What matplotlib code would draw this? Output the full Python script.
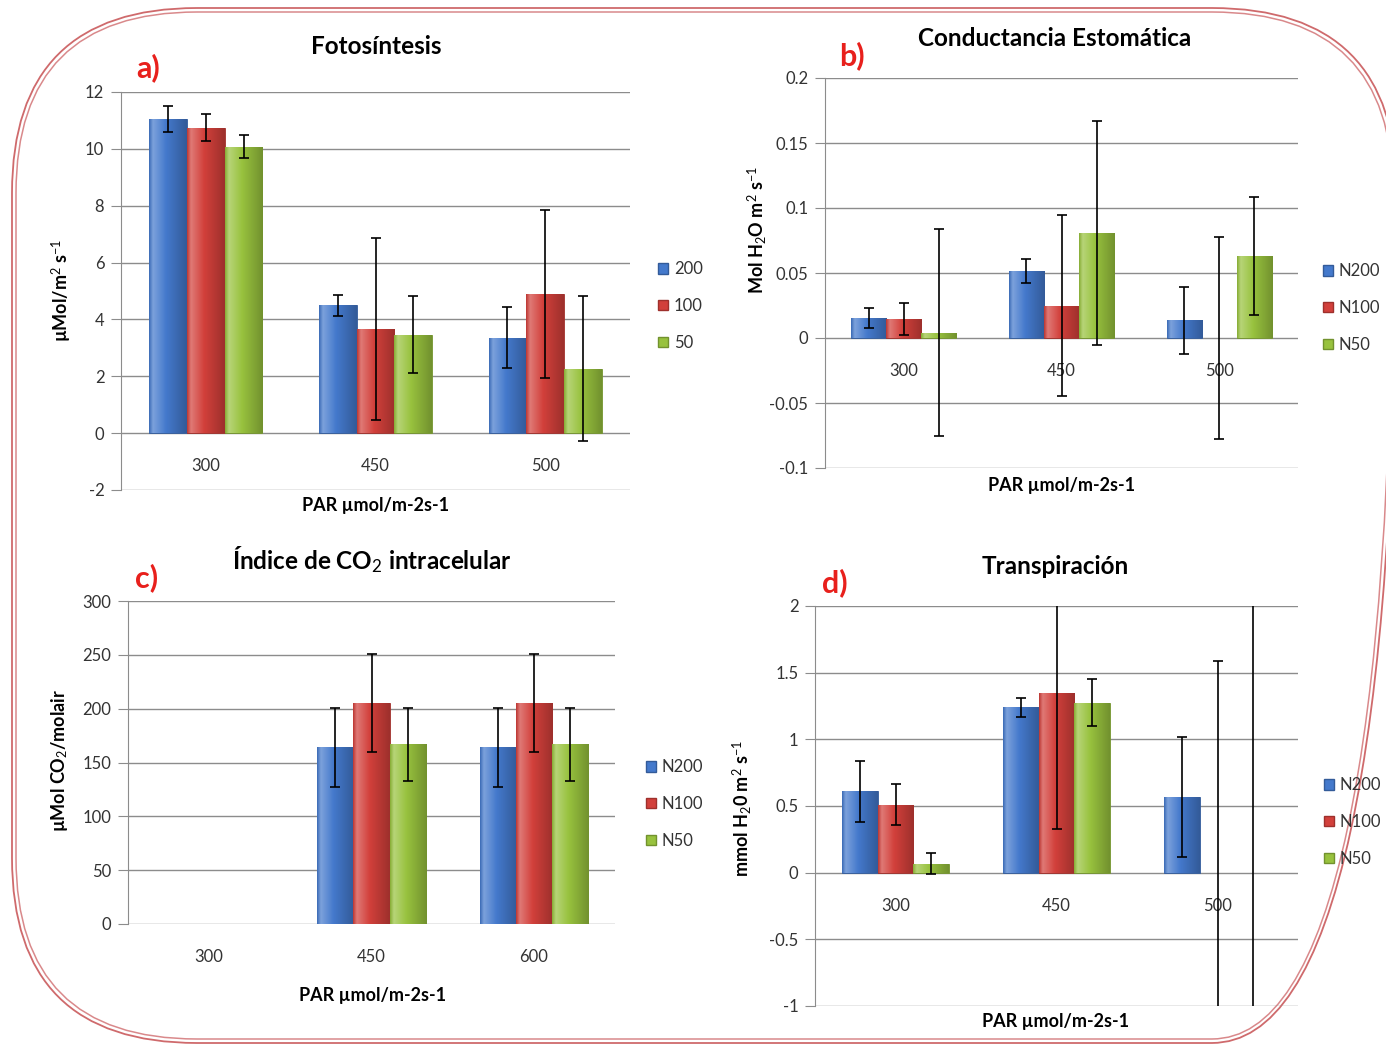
import matplotlib
matplotlib.use("Agg")
import matplotlib.pyplot as plt
import matplotlib.colors as mcolors
from matplotlib.patches import FancyBboxPatch, Patch
import numpy as np

plt.rcParams['font.family'] = ['Lato', 'DejaVu Sans']
plt.rcParams['mathtext.fontset'] = 'custom'
plt.rcParams['mathtext.rm'] = 'Lato'
plt.rcParams['mathtext.it'] = 'Lato:italic'
plt.rcParams['mathtext.bf'] = 'Lato:bold'

# --- datos ---
par_ab = ['300', '450', '500']
par_c = ['300', '450', '600']
series_a = ['200', '100', '50']
series_n = ['N200', 'N100', 'N50']

# a) Fotosintesis
foto_200 = [11.05, 4.50, 3.36]
foto_100 = [10.75, 3.66, 4.90]
foto_50 = [10.08, 3.46, 2.27]
foto_200_err = [0.46, 0.37, 1.08]
foto_100_err = [0.47, 3.19, 2.95]
foto_50_err = [0.40, 1.35, 2.55]

# b) Conductancia estomatica
cond_n200 = [0.0155, 0.0515, 0.0135]
cond_n100 = [0.0145, 0.025, 0.0]
cond_n50 = [0.004, 0.081, 0.063]
cond_n200_err = [0.0075, 0.009, 0.026]
cond_n100_err = [0.0125, 0.0695, 0.078]
cond_n50_err = [0.0795, 0.086, 0.0455]

# c) CO2 intracelular (300 sin datos)
ci_n200 = [np.nan, 164, 164]
ci_n100 = [np.nan, 205, 205]
ci_n50 = [np.nan, 167, 167]
ci_n200_err = [np.nan, 37, 37]
ci_n100_err = [np.nan, 45.5, 45.5]
ci_n50_err = [np.nan, 34, 34]

# d) Transpiracion
trans_n200 = [0.61, 1.24, 0.565]
trans_n100 = [0.51, 1.35, 0.0]
trans_n50 = [0.068, 1.275, 0.0]
trans_n200_err = [0.23, 0.07, 0.45]
trans_n100_err = [0.155, 1.02, 1.59]
trans_n50_err = [0.078, 0.177, 2.6]

colores = ['#4479cc', '#d2403b', '#98c23e']
gris = '#8c8c8c'

W, H = 1386, 1047
fig = plt.figure(figsize=(W / 100, H / 100), dpi=100)


def fx(px):
    return px / W


def fy(py):
    return 1 - py / H


def oscurecer(c, f=0.75):
    return mcolors.to_hex(np.array(mcolors.to_rgb(c)) * f)


# marco redondeado doble
bg = fig.add_axes([0, 0, 1, 1], zorder=-5)
bg.set_xlim(0, W)
bg.set_ylim(H, 0)
bg.axis('off')
bg.add_patch(FancyBboxPatch((12, 8), 1385, 1035, boxstyle="round,pad=0,rounding_size=185",
                            fc='none', ec='#cf6a6c', lw=1.3))
bg.add_patch(FancyBboxPatch((16, 12), 1377, 1027, boxstyle="round,pad=0,rounding_size=181",
                            fc='none', ec='#d9898b', lw=1.1))


def sombrear(ax, barras, color):
    base = np.array(mcolors.to_rgb(color))
    claro = base + (1 - base) * 0.3
    oscuro = base * 0.75
    t = np.linspace(0, 1, 60)
    pts = [0, 0.1, 0.45, 1]
    cols = [base * 0.9, claro, base, oscuro]
    img = np.zeros((1, len(t), 3))
    for k in range(3):
        img[0, :, k] = np.interp(t, pts, [c[k] for c in cols])
    for b in barras:
        h = b.get_height()
        if not np.isfinite(h) or h == 0:
            b.set_linewidth(0)
            continue
        x0, y0, w = b.get_x(), b.get_y(), b.get_width()
        im = ax.imshow(img, extent=[x0, x0 + w, y0, y0 + h], aspect='auto',
                       interpolation='bilinear', zorder=1.2)
        im.set_clip_path(b)


def panel(rect, cats, vals, errs, ylim, yticks):
    l, t, r, b = rect
    ax = fig.add_axes([fx(l), fy(b), fx(r - l), (b - t) / H])
    x = np.arange(len(cats))
    w = 1 / 4.5
    for i, (v, e, c) in enumerate(zip(vals, errs, colores)):
        pos = x + (i - 1) * w
        barras = ax.bar(pos, v, w, color=c, edgecolor=oscurecer(c), lw=0.6, zorder=1)
        sombrear(ax, barras, c)
        ax.errorbar(pos, v, yerr=e, fmt='none', ecolor='black', elinewidth=1.2,
                    capsize=3.5, capthick=1.2, zorder=4)
    ax.set_xlim(-0.5, len(cats) - 0.5)
    ax.set_ylim(*ylim)
    ax.set_yticks(yticks)
    ax.set_yticklabels(['{:g}'.format(v) for v in yticks])
    ax.set_xticks(x)
    ax.set_xticklabels(cats)
    ax.set_axisbelow(True)
    ax.grid(axis='y', color=gris, lw=1)
    for s in ['top', 'right']:
        ax.spines[s].set_visible(False)
    ax.spines['bottom'].set_position(('data', 0))
    ax.spines['bottom'].set_visible(False)
    ax.spines['left'].set_color(gris)
    ax.tick_params(axis='y', length=7, color=gris, labelsize=12, labelcolor='#333333', pad=5)
    ax.tick_params(axis='x', length=0, labelsize=12, labelcolor='#333333', pad=18)
    ax.patch.set_alpha(0)
    return ax


ax_a = panel((121, 92, 630, 490), par_ab,
             [foto_200, foto_100, foto_50], [foto_200_err, foto_100_err, foto_50_err],
             (-2, 12), [-2, 0, 2, 4, 6, 8, 10, 12])
ax_b = panel((825, 78, 1298, 468), par_ab,
             [cond_n200, cond_n100, cond_n50], [cond_n200_err, cond_n100_err, cond_n50_err],
             (-0.1, 0.2), [-0.1, -0.05, 0, 0.05, 0.1, 0.15, 0.2])
ax_c = panel((128, 601, 615, 924), par_c,
             [ci_n200, ci_n100, ci_n50], [ci_n200_err, ci_n100_err, ci_n50_err],
             (0, 300), [0, 50, 100, 150, 200, 250, 300])
ax_d = panel((815, 606, 1298, 1006), par_ab,
             [trans_n200, trans_n100, trans_n50], [trans_n200_err, trans_n100_err, trans_n50_err],
             (-1, 2), [-1, -0.5, 0, 0.5, 1, 1.5, 2])

# leyendas
for ax, labs, (px, py) in zip([ax_a, ax_b, ax_c, ax_d],
                              [series_a, series_n, series_n, series_n],
                              [(658, 306), (1323, 308), (646, 804), (1324, 822)]):
    hs = [Patch(fc=c, ec=oscurecer(c)) for c in colores]
    ax.legend(hs, labs, loc='center left', bbox_to_anchor=(fx(px), fy(py)),
              bbox_transform=fig.transFigure, frameon=False, fontsize=12,
              handlelength=0.6, handleheight=0.6, handletextpad=0.35,
              borderaxespad=0, borderpad=0, labelspacing=1.25, labelcolor='#333333')

# titulos
titulos = [("Fotosíntesis", 376, 47), ("Conductancia Estomática", 1055, 38),
           ("Índice de CO$_2$ intracelular", 372, 560), ("Transpiración", 1055, 566)]
for txt, px, py in titulos:
    fig.text(fx(px), fy(py), txt, ha='center', va='center', fontsize=17.5, fontweight='bold')

letras = [("a)", 148, 68), ("b)", 852, 56), ("c)", 147, 578), ("d)", 835, 583)]
for txt, px, py in letras:
    fig.text(fx(px), fy(py), txt, ha='center', va='center', fontsize=22,
             fontweight='bold', color='#e8201c')

xlab = "PAR µmol/m-2s-1"
for px, py in [(376, 506), (1062, 485), (373, 995), (1056, 1022)]:
    fig.text(fx(px), fy(py), xlab, ha='center', va='center', fontsize=13, fontweight='bold')

ylabs = [("µMol/m$^2$ s$^{-1}$", 62, 290), ("Mol H$_2$O m$^2$ s$^{-1}$", 757, 230),
         ("µMol CO$_2$/molair", 60, 760), ("mmol H$_2$0 m$^2$ s$^{-1}$", 742, 808)]
for txt, px, py in ylabs:
    fig.text(fx(px), fy(py), txt, ha='center', va='center', fontsize=13,
             fontweight='bold', rotation=90)

fig.savefig("out.png", dpi=100)
